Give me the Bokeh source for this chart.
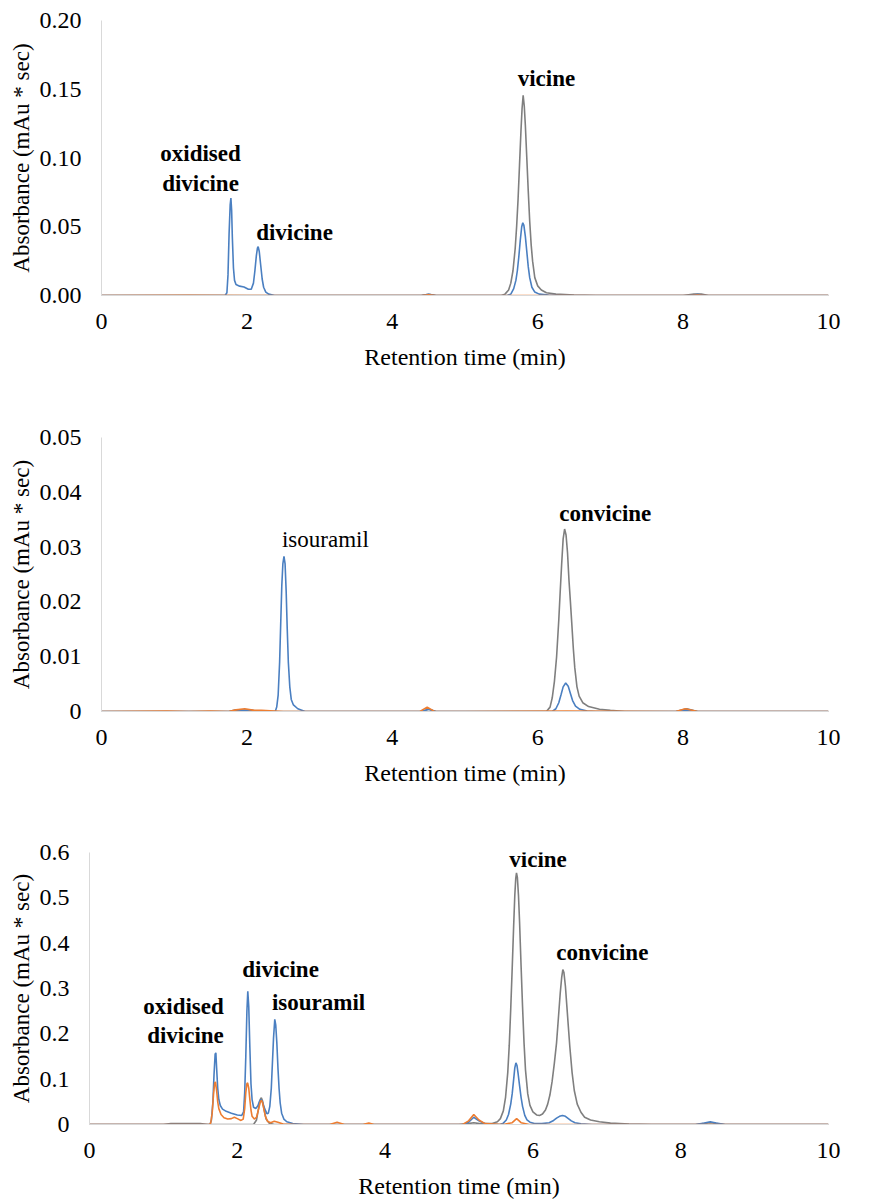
from bokeh.plotting import figure
from bokeh.models import Range1d, FixedTicker, NumeralTickFormatter, Label
from bokeh.embed import file_html
from bokeh.resources import INLINE

# ---------------- data (retention time in min, absorbance) ----------------
X_TICKS = [0, 2, 4, 6, 8, 10]
X_LABEL = "Retention time (min)"
Y_LABEL = "Absorbance (mAu * sec)"

# Panel A
A_blue_t = [0, 0.5, 1.0, 1.5, 1.70, 1.725, 1.74, 1.755, 1.77, 1.78, 1.79, 1.80, 1.815, 1.83, 1.85,
            1.90, 1.96, 2.02, 2.06, 2.09, 2.11, 2.13, 2.145, 2.155, 2.17, 2.19, 2.21, 2.23, 2.26,
            2.30, 2.38, 3.0, 4.40, 4.50, 4.60, 5.0, 5.58, 5.63, 5.67, 5.70, 5.72, 5.74, 5.76, 5.78,
            5.795, 5.81, 5.83, 5.85, 5.87, 5.89, 5.92, 5.96, 6.02, 6.15, 6.30, 7.0, 8.10, 8.20, 8.30,
            9.0, 10.0]
A_blue_v = [0, 0, 0, 0, 0, 0.002, 0.015, 0.045, 0.066, 0.0708, 0.062, 0.042, 0.020, 0.011, 0.008,
            0.0068, 0.0062, 0.0045, 0.0045, 0.009, 0.018, 0.029, 0.0345, 0.0356, 0.032, 0.022, 0.012, 0.006, 0.0025,
            0.001, 0, 0, 0, 0.0008, 0, 0, 0, 0.001, 0.005, 0.011, 0.018, 0.028, 0.040, 0.050,
            0.0529, 0.051, 0.043, 0.032, 0.021, 0.013, 0.006, 0.0025, 0.001, 0.0003, 0, 0, 0, 0.0008, 0,
            0, 0]
A_orange_t = [0, 1.2, 2.0, 3.0, 4.40, 4.50, 4.60, 6.0, 8.10, 8.20, 8.30, 10.0]
A_orange_v = [0, 0.0001, 0, 0, 0, 0.0005, 0, 0, 0, 0.0004, 0, 0]
A_gray_t = [0, 1.0, 2.0, 3.0, 4.40, 4.50, 4.60, 5.0, 5.50, 5.55, 5.60, 5.63, 5.66, 5.69, 5.71,
            5.73, 5.75, 5.77, 5.785, 5.80, 5.815, 5.83, 5.85, 5.87, 5.89, 5.91, 5.93, 5.96, 6.00,
            6.05, 6.12, 6.25, 6.50, 6.80, 8.0, 8.15, 8.25, 8.35, 9.0, 10.0]
A_gray_v = [0, 0, 0, 0, 0, 0.0008, 0, 0, 0, 0.001, 0.004, 0.009, 0.018, 0.034, 0.050,
            0.070, 0.095, 0.120, 0.136, 0.1455, 0.138, 0.124, 0.100, 0.076, 0.054, 0.037, 0.025, 0.013, 0.007,
            0.004, 0.002, 0.001, 0.0004, 0, 0, 0.001, 0.001, 0, 0, 0]
A_y_ticks = [0, 0.05, 0.10, 0.15, 0.20]

# Panel B
B_blue_t = [0, 1.0, 1.8, 1.95, 2.1, 2.39, 2.41, 2.43, 2.45, 2.465, 2.48, 2.495, 2.51, 2.525, 2.54,
            2.555, 2.57, 2.59, 2.61, 2.64, 2.70, 2.80, 4.40, 4.50, 4.60, 6.20, 6.25, 6.29, 6.32,
            6.35, 6.385, 6.42, 6.45, 6.48, 6.52, 6.58, 6.68, 6.80, 7.9, 8.05, 8.2, 10.0]
B_blue_v = [0, 0, 0, 0.0002, 0, 0, 0.0008, 0.003, 0.009, 0.016, 0.023, 0.027, 0.0283, 0.027, 0.022,
            0.015, 0.009, 0.0045, 0.0022, 0.0012, 0.0005, 0, 0, 0.0004, 0, 0, 0.0005, 0.0016, 0.003,
            0.0045, 0.0052, 0.0046, 0.0033, 0.002, 0.001, 0.0004, 0.0001, 0, 0, 0.0003, 0, 0]
B_orange_t = [0, 0.9, 1.2, 1.5, 1.75, 1.85, 1.97, 2.1, 2.2, 2.5, 3.0, 4.38, 4.48, 4.58, 5.0, 6.4,
              7.9, 8.03, 8.2, 10.0]
B_orange_v = [0, 0.0001, 0, 0.0001, 0, 0.0003, 0.0005, 0.0002, 0.0002, 0, 0, 0, 0.0008, 0, 0, 0.0001,
              0, 0.0005, 0, 0]
B_gray_t = [0, 1.0, 1.75, 1.85, 1.95, 2.05, 2.15, 2.4, 4.40, 4.50, 4.60, 6.12, 6.17, 6.20, 6.23,
            6.26, 6.29, 6.31, 6.33, 6.35, 6.37, 6.39, 6.41, 6.43, 6.45, 6.47, 6.49, 6.51, 6.54,
            6.57, 6.62, 6.70, 6.85, 7.0, 7.2, 7.9, 8.05, 8.2, 10.0]
B_gray_v = [0, 0, 0, 0.0003, 0.0002, 0.0003, 0, 0, 0, 0.0004, 0, 0, 0.0008, 0.0025, 0.0055,
            0.010, 0.0167, 0.022, 0.027, 0.0315, 0.0333, 0.0322, 0.029, 0.024, 0.020, 0.0158, 0.0115, 0.008, 0.0045,
            0.0028, 0.0016, 0.0009, 0.0004, 0.0002, 0, 0, 0.0005, 0, 0]
B_y_ticks = [0, 0.01, 0.02, 0.03, 0.04, 0.05]

# Panel C
C_blue_t = [0, 1.0, 1.63, 1.65, 1.67, 1.685, 1.70, 1.71, 1.72, 1.735, 1.75, 1.77, 1.80, 1.85,
            1.92, 2.00, 2.06, 2.085, 2.10, 2.115, 2.13, 2.142, 2.155, 2.17, 2.185, 2.20, 2.22, 2.25,
            2.28, 2.30, 2.32, 2.34, 2.37, 2.40, 2.42, 2.44, 2.46, 2.475, 2.49, 2.507, 2.52, 2.535,
            2.55, 2.565, 2.58, 2.60, 2.63, 2.67, 2.75, 2.9, 5.05, 5.13, 5.20, 5.27, 5.35, 5.55,
            5.60, 5.64, 5.67, 5.70, 5.72, 5.74, 5.755, 5.77, 5.785, 5.80, 5.82, 5.84, 5.86, 5.89,
            5.92, 5.96, 6.02, 6.12, 6.22, 6.28, 6.32, 6.36, 6.40, 6.44, 6.48, 6.52, 6.57, 6.65,
            6.8, 8.2, 8.32, 8.40, 8.48, 8.6, 10.0]
C_blue_v = [0, 0, 0, 0.010, 0.050, 0.110, 0.155, 0.158, 0.125, 0.080, 0.055, 0.042, 0.034, 0.029,
            0.025, 0.021, 0.020, 0.028, 0.070, 0.150, 0.250, 0.294, 0.260, 0.170, 0.090, 0.055, 0.038, 0.035,
            0.042, 0.051, 0.055, 0.050, 0.035, 0.024, 0.025, 0.040, 0.080, 0.135, 0.190, 0.232, 0.220, 0.180,
            0.125, 0.080, 0.048, 0.025, 0.012, 0.006, 0.002, 0, 0, 0.005, 0.016, 0.008, 0.002, 0,
            0.003, 0.010, 0.022, 0.045, 0.068, 0.100, 0.125, 0.136, 0.130, 0.112, 0.085, 0.060, 0.040, 0.020,
            0.010, 0.005, 0.002, 0.002, 0.004, 0.009, 0.014, 0.018, 0.020, 0.018, 0.013, 0.008, 0.004, 0.0015,
            0, 0, 0.003, 0.006, 0.003, 0, 0]
C_orange_t = [0, 1.0, 1.62, 1.64, 1.66, 1.68, 1.695, 1.705, 1.72, 1.735, 1.75, 1.78, 1.82, 1.87,
              1.92, 1.96, 2.00, 2.05, 2.08, 2.10, 2.115, 2.13, 2.14, 2.155, 2.17, 2.185, 2.20, 2.23,
              2.26, 2.29, 2.31, 2.325, 2.34, 2.36, 2.38, 2.41, 2.45, 2.50, 2.55, 2.62, 2.8, 3.25,
              3.35, 3.45, 3.70, 3.78, 3.85, 5.05, 5.13, 5.20, 5.27, 5.35, 5.6, 5.72, 5.78, 5.84,
              5.95, 10.0]
C_orange_v = [0, 0, 0, 0.003, 0.025, 0.070, 0.092, 0.094, 0.075, 0.050, 0.035, 0.022, 0.015, 0.012,
              0.013, 0.016, 0.013, 0.009, 0.012, 0.035, 0.070, 0.090, 0.092, 0.080, 0.055, 0.032, 0.018, 0.012,
              0.016, 0.035, 0.049, 0.053, 0.049, 0.034, 0.018, 0.007, 0.004, 0.007, 0.005, 0.001, 0, 0,
              0.005, 0, 0, 0.003, 0, 0, 0.008, 0.022, 0.010, 0.002, 0, 0.004, 0.013, 0.004,
              0, 0]
C_gray_t = [0, 1.0, 1.10, 1.30, 1.50, 1.60, 2.22, 2.26, 2.29, 2.31, 2.325, 2.34, 2.36, 2.39, 2.43,
            2.5, 5.0, 5.12, 5.20, 5.28, 5.40, 5.45, 5.52, 5.56, 5.60, 5.63, 5.66, 5.68, 5.70, 5.72,
            5.74, 5.755, 5.768, 5.778, 5.79, 5.805, 5.82, 5.84, 5.86, 5.88, 5.90, 5.93, 5.96, 6.00,
            6.05, 6.09, 6.13, 6.17, 6.20, 6.23, 6.26, 6.29, 6.32, 6.345, 6.37, 6.39, 6.405, 6.42,
            6.44, 6.46, 6.48, 6.50, 6.53, 6.56, 6.60, 6.65, 6.70, 6.78, 6.90, 7.05, 7.3, 7.6, 8.2,
            8.4, 8.6, 10.0]
C_gray_v = [0, 0, 0.002, 0.002, 0.002, 0, 0, 0.010, 0.038, 0.055, 0.059, 0.053, 0.035, 0.012, 0.003,
            0, 0, 0.002, 0.004, 0.002, 0.002, 0.002, 0.006, 0.013, 0.030, 0.060, 0.115, 0.175, 0.255, 0.345,
            0.440, 0.505, 0.543, 0.555, 0.545, 0.505, 0.445, 0.350, 0.260, 0.180, 0.120, 0.068, 0.042, 0.028,
            0.021, 0.020, 0.023, 0.032, 0.045, 0.065, 0.095, 0.135, 0.180, 0.235, 0.290, 0.325, 0.3416, 0.335,
            0.305, 0.260, 0.215, 0.171, 0.115, 0.075, 0.045, 0.027, 0.016, 0.010, 0.006, 0.003, 0.001, 0, 0,
            0.004, 0, 0]
C_y_ticks = [0, 0.1, 0.2, 0.3, 0.4, 0.5, 0.6]

# peak annotations: (text, time, absorbance, bold)
A_notes = [("oxidised", 1.362, 0.1033, True), ("divicine", 1.362, 0.0815, True),
           ("divicine", 2.655, 0.0458, True), ("vicine", 6.12, 0.1578, True)]
B_notes = [("isouramil", 3.08, 0.0314, False), ("convicine", 6.93, 0.0361, True)]
C_notes = [("oxidised", 1.272, 0.2606, True), ("divicine", 1.299, 0.197, True),
           ("divicine", 2.585, 0.3416, True), ("isouramil", 3.10, 0.269, True),
           ("vicine", 6.07, 0.5846, True), ("convicine", 6.94, 0.380, True)]
# panel letters: (text, time, absorbance)
A_letter = ("A", 10.77, 0.1833)
B_letter = ("B", 10.78, 0.054)
C_letter = ("C", 10.76, 0.6437)

# ---------------- styling ----------------
BLUE = "#4a7fc1"
ORANGE = "#ed7d31"
GRAY = "#7f7f7f"
AXIS = "#d9d9d9"
SERIF = "Liberation Serif"


def panel(height, border, ymax, yticks, yfmt, series, notes, letter):
    left, right, top, bottom = border
    p = figure(width=896, height=height, x_range=Range1d(0, 10), y_range=Range1d(0, ymax),
               output_backend="svg", toolbar_location=None,
               min_border_left=left, min_border_right=right,
               min_border_top=top, min_border_bottom=bottom)
    p.grid.visible = False
    p.outline_line_color = None
    p.background_fill_color = "white"
    p.border_fill_color = "white"

    p.xaxis.ticker = FixedTicker(ticks=X_TICKS)
    p.yaxis.ticker = FixedTicker(ticks=yticks)
    p.yaxis.formatter = NumeralTickFormatter(format=yfmt)
    p.xaxis.axis_label = X_LABEL
    p.yaxis.axis_label = Y_LABEL
    for ax in (p.xaxis[0], p.yaxis[0]):
        ax.axis_line_color = AXIS
        ax.axis_line_width = 1
        ax.major_tick_line_color = None
        ax.minor_tick_line_color = None
        ax.major_tick_out = 0
        ax.major_tick_in = 0
        ax.major_label_text_font = SERIF
        ax.major_label_text_font_size = "24px"
        ax.major_label_text_color = "black"
        ax.axis_label_text_font = SERIF
        ax.axis_label_text_font_style = "normal"
        ax.axis_label_text_color = "black"
    p.xaxis.axis_label_text_font_size = "24px"
    p.yaxis.axis_label_text_font_size = "23px"
    p.xaxis.major_label_standoff = 18
    p.xaxis.axis_label_standoff = 12
    p.yaxis.major_label_standoff = 20
    p.yaxis.axis_label_standoff = 3

    for t, v, c in series:
        p.line(t, v, line_color=c, line_width=1.6)

    for txt, x, y, bold in notes:
        p.add_layout(Label(x=x, y=y, text=txt, text_align="center", text_baseline="alphabetic",
                           text_font=SERIF, text_font_size="23px",
                           text_font_style="bold" if bold else "normal", text_color="black"))
    txt, x, y = letter
    p.add_layout(Label(x=x, y=y, text=txt, text_align="center", text_baseline="alphabetic",
                       text_font="Open Sans", text_font_size="16px", text_font_style="bold",
                       text_color="black"))
    return p


pA = panel(380, (101, 68, 20, 85), 0.20, A_y_ticks, "0.00",
           [(A_gray_t, A_gray_v, GRAY), (A_blue_t, A_blue_v, BLUE), (A_orange_t, A_orange_v, ORANGE)],
           A_notes, A_letter)
pB = panel(420, (101, 68, 57, 89), 0.05, B_y_ticks, "0.[00]",
           [(B_gray_t, B_gray_v, GRAY), (B_blue_t, B_blue_v, BLUE), (B_orange_t, B_orange_v, ORANGE)],
           B_notes, B_letter)
pC = panel(401, (89, 68, 52, 75), 0.6, C_y_ticks, "0.[0]",
           [(C_gray_t, C_gray_v, GRAY), (C_blue_t, C_blue_v, BLUE), (C_orange_t, C_orange_v, ORANGE)],
           C_notes, C_letter)

open("out.html", "w").write(file_html([pA, pB, pC], INLINE))
